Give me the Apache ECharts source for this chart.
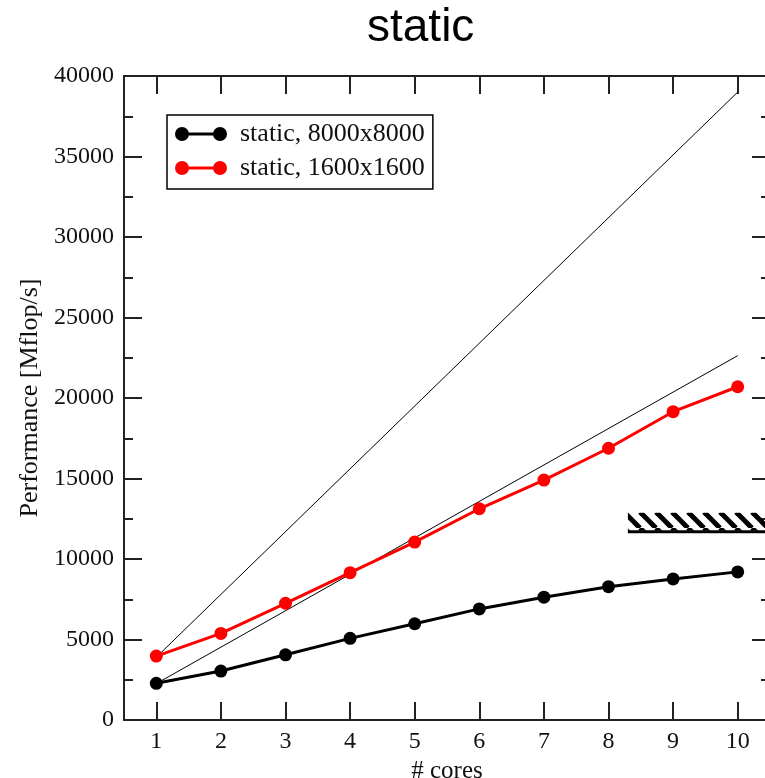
<!DOCTYPE html>
<html>
<head>
<meta charset="utf-8">
<script src="https://cdn.jsdelivr.net/npm/echarts@6/dist/echarts.min.js"></script>
<style>
  html, body { margin: 0; padding: 0; background: #fff; }
  #chart { width: 765px; height: 778px; }
</style>
</head>
<body>
<div id="chart"></div>
<script>
// values
const cores = [1, 2, 3, 4, 5, 6, 7, 8, 9, 10]
const perf8000 = [2280, 3040, 4050, 5070, 5980, 6900, 7630, 8280, 8760, 9200]
const perf1600 = [3970, 5380, 7250, 9150, 11050, 13120, 14900, 16880, 19150, 20700]
const idealCores = [1, 10]
const ideal1600 = [3900, 39000]
const ideal8000 = [2260, 22630]
const hatchCores = [8.3, 10.5]
const hatchPerf = [11750, 12880]
const hatchBase = 11700

const serif = 'Liberation Serif'
const axisColor = '#222'

function pairs(xs, ys) {
  return xs.map((x, i) => [x, ys[i]])
}

// diagonal hatch tile for the bandwidth band
function hatchPattern() {
  const c = document.createElement('canvas')
  c.width = 16
  c.height = 16
  const ctx = c.getContext('2d')
  ctx.strokeStyle = '#000'
  ctx.lineWidth = 5
  for (const off of [-16, 0, 16]) {
    ctx.beginPath()
    ctx.moveTo(off, 0)
    ctx.lineTo(off + 16, 16)
    ctx.stroke()
  }
  return { image: c, repeat: 'repeat' }
}

const legendIcon =
  'path://M0,7A7,7,0,1,1,14,7A7,7,0,1,1,0,7Z M38,7A7,7,0,1,1,52,7A7,7,0,1,1,38,7Z M7,5.5L45,5.5L45,8.5L7,8.5Z'

const chart = echarts.init(document.getElementById('chart'), null, { renderer: 'canvas' })

const xBase = {
  type: 'value',
  min: 0.5,
  max: 10.5,
  axisLine: { onZero: false, lineStyle: { color: axisColor, width: 2 } },
  axisTick: {
    inside: true,
    length: 18,
    customValues: cores,
    lineStyle: { color: axisColor, width: 2 },
  },
  splitLine: { show: false },
}
const yBase = {
  type: 'value',
  min: 0,
  max: 40000,
  interval: 5000,
  axisLine: { show: true, onZero: false, lineStyle: { color: axisColor, width: 2 } },
  axisTick: { inside: true, length: 18, lineStyle: { color: axisColor, width: 2 } },
  minorTick: { show: true, splitNumber: 2, length: 9, lineStyle: { color: axisColor, width: 2 } },
  splitLine: { show: false },
}

chart.setOption({
  animation: false,
  title: {
    text: 'static',
    left: 362,
    top: 0,
    textStyle: { fontFamily: 'Liberation Sans', fontSize: 46, fontWeight: 'normal', color: '#000' },
  },
  grid: { left: 124, right: -5, top: 76, bottom: 58, outerBoundsMode: 'none' },
  legend: {
    orient: 'vertical',
    left: 167,
    top: 115,
    padding: [6, 8, 8, 8],
    itemGap: 8,
    itemWidth: 52,
    itemHeight: 14,
    borderColor: '#000',
    borderWidth: 1.5,
    textStyle: { fontFamily: serif, fontSize: 26, color: '#111', padding: [0, 0, 0, 8] },
    data: [
      { name: 'static, 8000x8000', icon: legendIcon },
      { name: 'static, 1600x1600', icon: legendIcon },
    ],
  },
  xAxis: [
    {
      ...xBase,
      position: 'bottom',
      name: '# cores',
      nameLocation: 'middle',
      nameGap: 37,
      nameTextStyle: { fontFamily: serif, fontSize: 25, color: '#111' },
      axisLabel: {
        margin: 10,
        fontFamily: serif,
        fontSize: 24,
        color: '#111',
        customValues: cores,
      },
    },
    { ...xBase, position: 'top', axisLabel: { show: false } },
  ],
  yAxis: [
    {
      ...yBase,
      position: 'left',
      name: 'Performance [Mflop/s]',
      nameLocation: 'middle',
      nameGap: 76,
      nameTextStyle: { fontFamily: serif, fontSize: 26, color: '#111' },
      axisLabel: {
        margin: 10,
        fontFamily: serif,
        fontSize: 24,
        color: '#111',
        formatter: (v) => String(v),
      },
    },
    { ...yBase, position: 'right', axisLabel: { show: false } },
  ],
  series: [
    {
      name: 'ideal 1600',
      type: 'line',
      data: pairs(idealCores, ideal1600),
      showSymbol: false,
      lineStyle: { color: '#000', width: 1 },
      z: 1,
    },
    {
      name: 'ideal 8000',
      type: 'line',
      data: pairs(idealCores, ideal8000),
      showSymbol: false,
      lineStyle: { color: '#000', width: 1 },
      z: 1,
    },
    {
      name: 'band',
      type: 'line',
      data: pairs(hatchCores, [hatchBase, hatchBase]),
      showSymbol: false,
      lineStyle: { color: '#000', width: 3 },
      markArea: {
        silent: true,
        itemStyle: { color: hatchPattern(), opacity: 1 },
        data: [[{ coord: [hatchCores[0], hatchPerf[0]] }, { coord: [hatchCores[1], hatchPerf[1]] }]],
      },
      z: 1,
    },
    {
      name: 'static, 8000x8000',
      type: 'line',
      data: pairs(cores, perf8000),
      symbol: 'circle',
      symbolSize: 13,
      lineStyle: { color: '#000', width: 3 },
      itemStyle: { color: '#000' },
      z: 3,
    },
    {
      name: 'static, 1600x1600',
      type: 'line',
      data: pairs(cores, perf1600),
      symbol: 'circle',
      symbolSize: 13,
      lineStyle: { color: '#ff0000', width: 3 },
      itemStyle: { color: '#ff0000' },
      z: 3,
    },
  ],
})
</script>
</body>
</html>
